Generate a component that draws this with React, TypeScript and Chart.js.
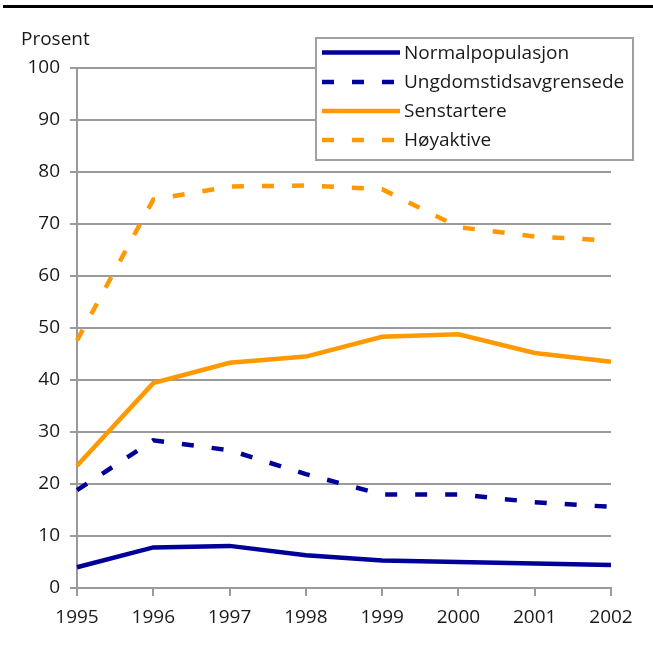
import React, { useEffect, useRef } from "react";
import { Chart, registerables } from "chart.js";

Chart.register(...registerables);

const years = ["1995", "1996", "1997", "1998", "1999", "2000", "2001", "2002"];
const normalpopulasjon = [4.0, 7.8, 8.1, 6.3, 5.3, 5.0, 4.7, 4.4];
const ungdomstidsavgrensede = [18.8, 28.4, 26.5, 21.9, 18.0, 18.0, 16.5, 15.6];
const senstartere = [23.5, 39.4, 43.3, 44.5, 48.3, 48.8, 45.2, 43.5];
const hoyaktive = [47.6, 74.7, 77.2, 77.4, 76.7, 69.4, 67.6, 66.8];
const seriesNames = ["Normalpopulasjon", "Ungdomstidsavgrensede", "Senstartere", "Høyaktive"];
const yAxisTitle = "Prosent";

const BLUE = "#000099";
const ORANGE = "#FF9900";
const GRID = "#9a9a9a";
const TEXT = "#1a1a1a";
const FONT_FAMILY = "'Open Sans', sans-serif";
const FONT_SIZE = 19;
const DASH = [12, 18];

const overlayPlugin = {
  id: "overlay",
  afterDraw(chart: any) {
    const ctx = chart.ctx as CanvasRenderingContext2D;
    ctx.save();
    // top rule
    ctx.strokeStyle = "#000";
    ctx.lineWidth = 3;
    ctx.beginPath();
    ctx.moveTo(3, 6.5);
    ctx.lineTo(653, 6.5);
    ctx.stroke();

    // axis title
    ctx.fillStyle = TEXT;
    ctx.font = `${FONT_SIZE}px ${FONT_FAMILY}`;
    ctx.textAlign = "left";
    ctx.textBaseline = "middle";
    ctx.fillText(yAxisTitle, 21, 40);

    // legend
    const bx = 316, by = 38, bw = 317, bh = 122;
    ctx.fillStyle = "#fff";
    ctx.fillRect(bx, by, bw, bh);
    ctx.strokeStyle = "#a0a0a0";
    ctx.lineWidth = 2;
    ctx.strokeRect(bx, by, bw, bh);
    const rowY = [52.5, 82, 111, 140];
    chart.data.datasets.forEach((ds: any, i: number) => {
      const y = rowY[i];
      ctx.strokeStyle = ds.borderColor;
      ctx.lineWidth = 4.5;
      ctx.setLineDash(ds.borderDash || []);
      ctx.lineCap = "butt";
      ctx.beginPath();
      ctx.moveTo(322, y);
      ctx.lineTo(400, y);
      ctx.stroke();
      ctx.setLineDash([]);
      ctx.fillStyle = TEXT;
      ctx.fillText(ds.label, 404, y + 1);
    });
    ctx.restore();
  },
};

export default function App() {
  const ref = useRef<HTMLCanvasElement | null>(null);

  useEffect(() => {
    if (!ref.current) return;
    const chart = new Chart(ref.current, {
      type: "line",
      data: {
        labels: years,
        datasets: [
          { label: seriesNames[0], data: normalpopulasjon, borderColor: BLUE, borderWidth: 4.5, pointRadius: 0, fill: false, tension: 0 },
          { label: seriesNames[1], data: ungdomstidsavgrensede, borderColor: BLUE, borderWidth: 4.5, borderDash: DASH, pointRadius: 0, fill: false, tension: 0 },
          { label: seriesNames[2], data: senstartere, borderColor: ORANGE, borderWidth: 4.5, pointRadius: 0, fill: false, tension: 0 },
          { label: seriesNames[3], data: hoyaktive, borderColor: ORANGE, borderWidth: 4.5, borderDash: DASH, pointRadius: 0, fill: false, tension: 0 },
        ],
      },
      options: {
        responsive: false,
        animation: false,
        layout: { padding: { top: 68, right: 42, left: 0, bottom: 0 } },
        plugins: {
          legend: { display: false },
          tooltip: { enabled: false },
          title: { display: false },
        },
        scales: {
          x: {
            type: "category",
            offset: false,
            afterFit: (s: any) => { s.height = 58; },
            grid: { drawOnChartArea: false, drawTicks: true, tickLength: 8, color: GRID, lineWidth: 2 },
            border: { color: GRID, width: 2 },
            ticks: { color: TEXT, font: { family: FONT_FAMILY, size: FONT_SIZE }, padding: 10, maxRotation: 0, autoSkip: false },
          },
          y: {
            min: 0,
            max: 100,
            afterFit: (s: any) => { s.width = 77; },
            grid: { color: GRID, lineWidth: 2, tickLength: 7 },
            border: { color: GRID, width: 2 },
            ticks: { stepSize: 10, color: TEXT, font: { family: FONT_FAMILY, size: FONT_SIZE }, padding: 10 },
          },
        },
      },
      plugins: [overlayPlugin],
    });
    return () => chart.destroy();
  }, []);

  return (
    <div style={{ position: "fixed", left: 0, top: 0, width: 653, height: 646, background: "#fff" }}>
      <canvas ref={ref} width={653} height={646} style={{ display: "block" }} />
    </div>
  );
}
